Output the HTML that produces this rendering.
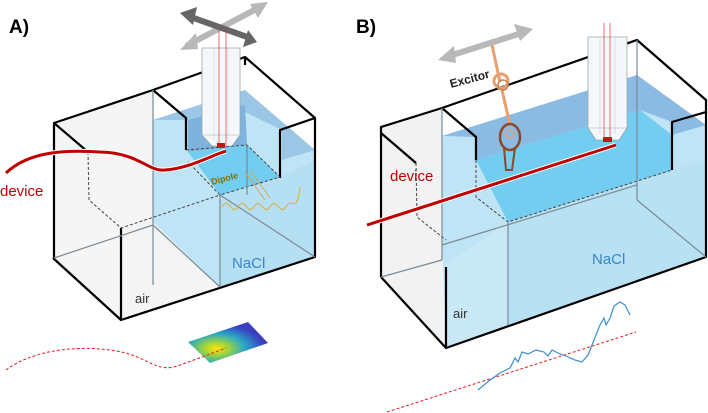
<!DOCTYPE html>
<html><head><meta charset="utf-8"><style>
html,body{margin:0;padding:0;background:#fff;width:708px;height:413px;overflow:hidden}
svg{display:block}
text{font-family:"Liberation Sans",sans-serif}
</style></head><body>
<svg width="708" height="413" viewBox="0 0 708 413" xmlns="http://www.w3.org/2000/svg">
<defs>
<radialGradient id="hm" cx="0.35" cy="0.65" r="0.6">
<stop offset="0" stop-color="#ffe600"/><stop offset="0.3" stop-color="#8fd04a"/><stop offset="0.6" stop-color="#2aa8c8"/><stop offset="1" stop-color="#3a3fc0"/>
</radialGradient>
</defs>
<!-- ============ PANEL A ============ -->
<text x="9" y="33" font-size="19" font-weight="bold" fill="#000">A)</text>
<!-- air region faint -->
<polygon points="54,123 153,90 153,285 121,320 53,258" fill="#f2f2f2" opacity="0.8"/>
<polygon points="121,228 220,195 220,287 121,320" fill="#f4f4f4"/>
<!-- water -->
<polygon points="153,120 245,90 315,150 315,257 220,287 153,222" fill="#bfe4f5"/>
<polygon points="153,120 245,90 315,150 282,160 282,130 245,112 188,120" fill="#9cc6e6"/>
<polygon points="188,120 245,105 247,145 188,152" fill="#7fb2dc"/>
<polygon points="188,152 247,145 280,177 220,195" fill="#72cdf0"/>
<polygon points="220,195 280,177 315,160 315,257 220,287" fill="#b5dff3"/>
<!-- box lines -->
<g stroke="#000" stroke-width="2.2" fill="none" stroke-linejoin="round">
<polyline points="54,258 54,123 153,90 245,57 315,118 315,257 121,320 53,258"/>
<line x1="121" y1="320" x2="121" y2="228"/>
<line x1="54" y1="123" x2="88" y2="152"/>
<polyline points="153,90 186,118 186,150"/>
<polyline points="280,178 280,130 315,118"/>
<line x1="245" y1="57" x2="245" y2="65"/>
</g>
<g stroke="#444" stroke-width="1" fill="none" stroke-dasharray="3,2">
<polyline points="88,152 89,200 121,228 220,195"/>
<polyline points="186,150 247,145 280,177 220,195 188,162"/>
</g>
<g stroke="#7a8a95" stroke-width="1.2" fill="none">
<line x1="153" y1="90" x2="153" y2="285"/>
<line x1="220" y1="195" x2="220" y2="287"/>
<line x1="54" y1="258" x2="153" y2="225"/>
<line x1="153" y1="225" x2="220" y2="287"/>
<line x1="220" y1="195" x2="315" y2="257"/>
<line x1="247" y1="145" x2="247" y2="195"/>
</g>
<!-- arrows A -->
<g stroke-linecap="butt">
<line x1="186" y1="46" x2="262" y2="6" stroke="#b8b8b8" stroke-width="6"/>
<polygon points="180,50 196,33 198,49" fill="#b8b8b8"/>
<polygon points="268,2 250,4 258,18" fill="#b8b8b8"/>
<line x1="188" y1="16" x2="250" y2="38" stroke="#666" stroke-width="6"/>
<polygon points="180,13 197,7 193,25" fill="#666"/>
<polygon points="257,42 243,47 248,30" fill="#666"/>
</g>
<!-- objective A -->
<polygon points="202,48 240,48 240,135 232,146 212,146 202,135" fill="#f4f8fb" stroke="#9aa" stroke-width="0.8"/>
<line x1="214" y1="48" x2="214" y2="140" stroke="#ccd" stroke-width="0.6"/>
<line x1="228" y1="48" x2="228" y2="140" stroke="#ccd" stroke-width="0.6"/>
<line x1="202" y1="135" x2="240" y2="135" stroke="#aab" stroke-width="0.6"/>
<line x1="219" y1="30" x2="219" y2="146" stroke="#e03030" stroke-width="0.7"/>
<line x1="226" y1="30" x2="226" y2="146" stroke="#e03030" stroke-width="0.7"/>
<rect x="217" y="143" width="8" height="5" fill="#c01818"/>
<!-- device A -->
<path d="M6,173 C30,150 70,150 100,152 C140,153 148,172 165,170 C190,168 210,156 226,151" stroke="#fff" stroke-width="5" fill="none"/>
<path d="M6,173 C30,150 70,150 100,152 C140,153 148,172 165,170 C190,168 210,156 226,151" stroke="#c00000" stroke-width="3" fill="none"/>
<text x="0" y="196" font-size="15" fill="#c00000">device</text>
<text x="212" y="185" font-size="9" font-weight="bold" fill="#8a6d00" transform="rotate(-15 212 185)">Dipole</text>
<path d="M222,207 c6,-12 10,10 16,0 c6,-12 10,10 16,0 c6,-12 10,10 16,0 c6,-12 10,10 16,0 c6,-12 10,10 14,-20" stroke="#e0b030" stroke-width="1" fill="none"/>
<line x1="245" y1="172" x2="265" y2="200" stroke="#e0a040" stroke-width="0.8"/>
<line x1="250" y1="170" x2="270" y2="198" stroke="#e0a040" stroke-width="0.8"/>
<text x="232" y="268" font-size="15" fill="#3a85c8">NaCl</text>
<text x="135" y="303" font-size="13" fill="#333">air</text>
<!-- heatmap -->
<polygon points="188,342 248,322 268,343 210,363" fill="url(#hm)"/>
<path d="M6,370 C30,352 70,345 110,350 C150,355 155,375 180,365 C200,358 215,352 226,348" stroke="#e02020" stroke-width="1" stroke-dasharray="3,2" fill="none"/>
<!-- ============ PANEL B ============ -->
<text x="356" y="33" font-size="19" font-weight="bold" fill="#000">B)</text>
<polygon points="381,127 442,108 442,260 446,348 381,277" fill="#f2f2f2"/>
<!-- water B -->
<polygon points="442,136 637,75 706,125 706,257 446,348 442,245" fill="#bfe4f5"/>
<polygon points="442,136 637,75 706,125 672,135 672,122 640,110 476,160 476,137" fill="#8bbbe2"/>
<polygon points="476,160 640,110 672,135 672,170 508,222" fill="#72cdf0"/>
<polygon points="446,265 508,222 508,325 446,348" fill="#c8e8f6"/>
<polygon points="508,222 672,170 706,160 706,257 508,325" fill="#b8e1f4"/>
<g stroke="#000" stroke-width="2.2" fill="none" stroke-linejoin="round">
<polyline points="381,277 381,127 442,108 637,40 706,100 706,257 446,348 381,277"/>
<line x1="446" y1="348" x2="446" y2="267"/>
<line x1="381" y1="133" x2="416" y2="163"/>
<polyline points="442,108 476,137 476,160"/>
<polyline points="672,170 672,122 706,112"/>
</g>
<g stroke="#444" stroke-width="1" fill="none" stroke-dasharray="3,2">
<polyline points="416,163 417,217 446,240"/>
<polyline points="476,160 476,197 508,222 672,170"/>
</g>
<g stroke="#7a8a95" stroke-width="1.2" fill="none">
<line x1="442" y1="108" x2="442" y2="260"/>
<line x1="508" y1="222" x2="508" y2="325"/>
<line x1="637" y1="40" x2="637" y2="200"/>
<line x1="381" y1="277" x2="442" y2="260"/>
<line x1="442" y1="245" x2="637" y2="185"/>
<line x1="637" y1="200" x2="706" y2="257"/>
</g>
<!-- arrow B -->
<line x1="446" y1="57" x2="525" y2="32" stroke="#b8b8b8" stroke-width="6"/>
<polygon points="438,60 454,46 456,63" fill="#b8b8b8"/>
<polygon points="533,29 514,24 520,41" fill="#b8b8b8"/>
<!-- excitor -->
<line x1="492" y1="45" x2="500" y2="82" stroke="#e8a070" stroke-width="3"/>
<line x1="502" y1="90" x2="510" y2="125" stroke="#e8a070" stroke-width="3"/>
<circle cx="501" cy="81" r="7" fill="none" stroke="#e8a070" stroke-width="3"/>
<circle cx="503" cy="85" r="5" fill="none" stroke="#c88050" stroke-width="1.5"/>
<ellipse cx="510" cy="137" rx="10" ry="13" fill="none" stroke="#8a4a2a" stroke-width="2.5"/>
<circle cx="510" cy="134" r="4" fill="none" stroke="#e8a070" stroke-width="1.2"/>
<path d="M504,148 L506,170 L512,170 L515,148" fill="none" stroke="#8a4a2a" stroke-width="2"/>
<text x="451" y="88" font-size="12" font-weight="bold" fill="#222" transform="rotate(-15 451 88)">Excitor</text>
<!-- objective B -->
<polygon points="588,37 627,37 627,128 619,140 596,140 588,128" fill="#f4f8fb" stroke="#9aa" stroke-width="0.8"/>
<line x1="600" y1="37" x2="600" y2="134" stroke="#ccd" stroke-width="0.6"/>
<line x1="615" y1="37" x2="615" y2="134" stroke="#ccd" stroke-width="0.6"/>
<line x1="588" y1="128" x2="627" y2="128" stroke="#aab" stroke-width="0.6"/>
<line x1="604" y1="23" x2="604" y2="140" stroke="#e03030" stroke-width="0.7"/>
<line x1="610" y1="23" x2="610" y2="140" stroke="#e03030" stroke-width="0.7"/>
<rect x="603" y="137" width="9" height="5" fill="#c01818"/>
<!-- device B -->
<line x1="367" y1="225" x2="616" y2="145" stroke="#fff" stroke-width="5"/>
<line x1="367" y1="225" x2="616" y2="145" stroke="#c00000" stroke-width="3"/>
<text x="390" y="181" font-size="15" fill="#c00000">device</text>
<text x="592" y="264" font-size="15" fill="#3a85c8">NaCl</text>
<text x="453" y="318" font-size="13" fill="#333">air</text>
<!-- signal B -->
<line x1="387" y1="412" x2="636" y2="332" stroke="#e02020" stroke-width="1" stroke-dasharray="3,2"/>
<polyline points="478,390 490,380 500,373 510,368 515,358 518,362 522,352 528,354 536,350 544,352 548,356 552,350 560,354 566,356 575,360 582,362 588,355 592,345 596,335 600,325 604,318 606,325 610,318 614,306 620,302 625,305 630,315" fill="none" stroke="#3a8ed0" stroke-width="1.2"/>
</svg>
</body></html>
